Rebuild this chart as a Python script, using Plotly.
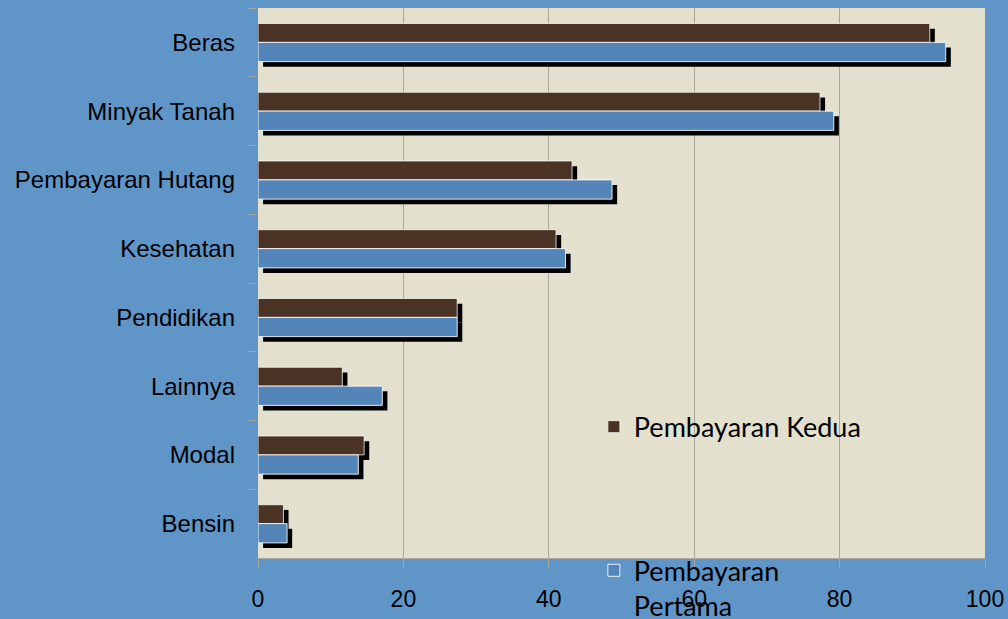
import plotly.graph_objects as go

categories = ["Beras", "Minyak Tanah", "Pembayaran Hutang", "Kesehatan",
              "Pendidikan", "Lainnya", "Modal", "Bensin"]
kedua = [92.4, 77.3, 43.2, 41.0, 27.4, 11.6, 14.6, 3.5]
pertama = [94.6, 79.2, 48.7, 42.3, 27.4, 17.1, 13.8, 4.0]
x_ticks = [0, 20, 40, 60, 80, 100]

BG = "#6095C8"
PLOT_BG = "#E3E0CE"
BROWN = "#4A3325"
BLUE = "#5485B8"
GRID = "#A9A79C"

# shadow offsets (in axis units)
DX = 0.7      # horizontal shift along value axis
DY = 0.075    # vertical shift along category axis

W_K, OFF_K = 0.275, -0.275
W_P, OFF_P = 0.28, 0.0

fig = go.Figure()

# shadows
fig.add_trace(go.Bar(y=categories, x=kedua, base=DX, orientation="h",
                     width=W_K, offset=OFF_K + DY, marker=dict(color="black", line=dict(width=0)),
                     showlegend=False, hoverinfo="skip"))
fig.add_trace(go.Bar(y=categories, x=pertama, base=DX, orientation="h",
                     width=W_P, offset=OFF_P + DY, marker=dict(color="black", line=dict(width=0)),
                     showlegend=False, hoverinfo="skip"))
# bars
fig.add_trace(go.Bar(y=categories, x=kedua, orientation="h", name="Pembayaran Kedua",
                     width=W_K, offset=OFF_K,
                     marker=dict(color=BROWN, line=dict(color="rgba(255,255,255,0.75)", width=1)),
                     legend="legend"))
fig.add_trace(go.Bar(y=categories, x=pertama, orientation="h", name="Pembayaran<br>Pertama",
                     width=W_P, offset=OFF_P,
                     marker=dict(color=BLUE, line=dict(color="rgba(255,255,255,0.85)", width=1)),
                     legend="legend2"))

LEG_FONT = dict(family="Lato", size=27, color="black")

fig.update_layout(
    width=1008, height=619,
    margin=dict(l=258, r=23, t=8, b=61, autoexpand=False),
    paper_bgcolor=BG, plot_bgcolor=PLOT_BG,
    barmode="overlay",
    showlegend=True,
    legend=dict(x=0.462, y=0.238, xanchor="left", yanchor="middle",
                bgcolor="rgba(0,0,0,0)", font=LEG_FONT, itemwidth=30),
    legend2=dict(x=0.462, y=-0.055, xanchor="left", yanchor="middle", valign="top",
                 bgcolor="rgba(0,0,0,0)", font=LEG_FONT, itemwidth=30),
    xaxis=dict(range=[0, 100], tickvals=x_ticks, ticktext=[str(v) for v in x_ticks],
               showgrid=True, gridcolor=GRID, gridwidth=1,
               zeroline=False, showline=True, linecolor=GRID, linewidth=1,
               ticks="outside", ticklen=8, tickcolor=GRID,
               tickfont=dict(family="Liberation Sans", size=23, color="black"),
               ticklabelstandoff=12, fixedrange=True),
    yaxis=dict(type="category", categoryorder="array", categoryarray=categories,
               autorange="reversed", showgrid=False, zeroline=False,
               ticks="outside", ticklen=8, tickcolor=GRID, tickson="boundaries",
               tickfont=dict(family="Liberation Sans", size=24, color="black"),
               ticklabelstandoff=22, fixedrange=True),
)

fig.write_html("out.html", config={"displayModeBar": False},
               post_script="document.body.style.margin='0';document.body.style.padding='0';")
